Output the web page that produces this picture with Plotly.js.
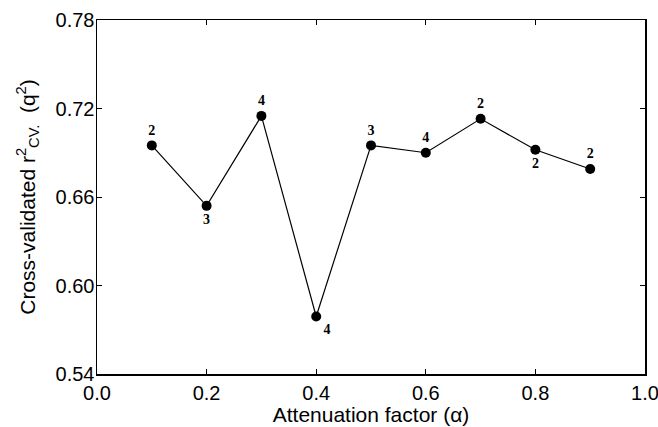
<!DOCTYPE html>
<html><head><meta charset="utf-8">
<script src="https://cdn.plot.ly/plotly-3.0.1.min.js"></script>
<style>body{margin:0;padding:0;background:#fff}#chart{width:658px;height:427px}</style>
</head><body><div id="chart"></div>
<script>
const alphaValues = [0.1, 0.2, 0.3, 0.4, 0.5, 0.6, 0.7, 0.8, 0.9];
const q2Values = [0.695, 0.654, 0.715, 0.579, 0.695, 0.690, 0.713, 0.692, 0.679];
const componentLabels = ['2', '3', '4', '4', '3', '4', '2', '2', '2'];
const labelPositions = ['top center', 'bottom center', 'top center', 'bottom right', 'top center', 'top center', 'top center', 'bottom center', 'top center'];
const xTicks = [0.0, 0.2, 0.4, 0.6, 0.8, 1.0];
const yTicks = [0.54, 0.60, 0.66, 0.72, 0.78];

const trace = {
  x: alphaValues, y: q2Values, text: componentLabels,
  mode: 'lines+markers+text', type: 'scatter',
  textposition: labelPositions,
  texttemplate: '<b>%{text}</b>',
  textfont: {family: 'Liberation Serif', size: 14, color: '#000'},
  line: {color: '#000', width: 1.2},
  marker: {color: '#000', size: 10},
  cliponaxis: false, hoverinfo: 'skip'
};
const tickFont = {family: 'Liberation Sans', size: 20, color: '#000'};
const titleFont = {family: 'Liberation Sans', size: 21, color: '#000'};
const layout = {
  width: 658, height: 427,
  margin: {l: 97, r: 13, t: 20, b: 53},
  paper_bgcolor: '#fff', plot_bgcolor: '#fff',
  showlegend: false,
  xaxis: {
    range: [0, 1], tickvals: xTicks, tickformat: '.1f',
    ticks: 'inside', ticklen: 5, tickcolor: '#000', tickwidth: 1,
    showline: true, linecolor: '#000', linewidth: 1.5, mirror: 'ticks',
    showgrid: false, zeroline: false, tickfont: tickFont,
    ticklabeloverflow: 'allow',
    title: {text: 'Attenuation factor (α)', font: titleFont, standoff: 2}
  },
  yaxis: {
    range: [0.54, 0.78], tickvals: yTicks, tickformat: '.2f',
    ticks: 'inside', ticklen: 5, tickcolor: '#000', tickwidth: 1,
    showline: true, linecolor: '#000', linewidth: 1.5, mirror: 'ticks',
    showgrid: false, zeroline: false, tickfont: tickFont,
    ticklabeloverflow: 'allow', ticklabelstandoff: -3,
    title: {text: 'Cross-validated r<sup>2</sup><sub>CV.</sub>  (q<sup>2</sup>)', font: titleFont, standoff: 14}
  }
};
Plotly.newPlot('chart', [trace], layout, {displayModeBar: false, staticPlot: true});
</script></body></html>
